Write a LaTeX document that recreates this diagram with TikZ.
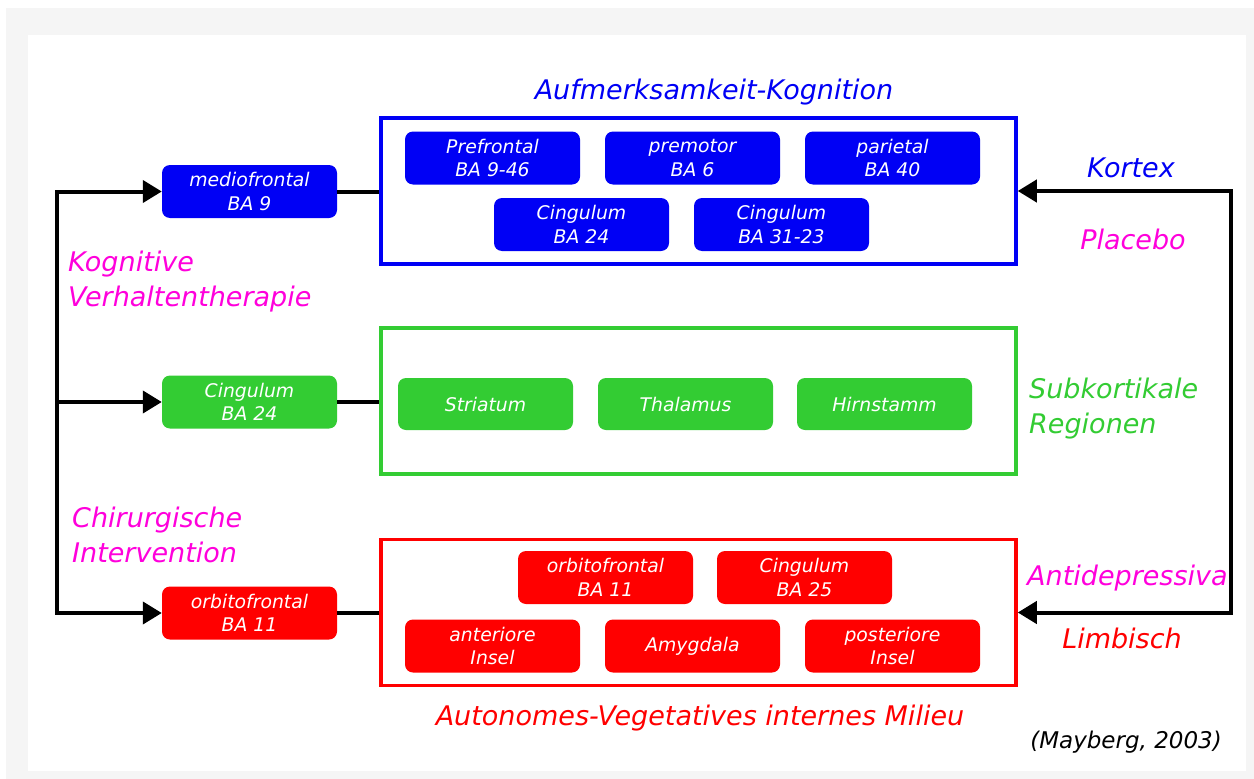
\documentclass[tikz,border=0pt]{standalone}
\usepackage{fontspec}
\setmainfont{DejaVu Sans}
\usetikzlibrary{arrows.meta}
\definecolor{cblue}{RGB}{0,0,245}
\definecolor{cgreen}{RGB}{51,204,51}
\definecolor{cred}{RGB}{255,0,0}
\definecolor{cmag}{RGB}{255,0,220}
\definecolor{bgray}{RGB}{245,245,245}
\tikzset{
  small/.style={rounded corners=8pt, minimum width=175pt, minimum height=53pt, inner sep=0pt,
    text=white, align=center, font=\fontsize{18.8}{23.5}\selectfont\itshape},
  bigbox/.style={draw, line width=3.5pt, minimum width=635pt, minimum height=146pt, inner sep=0pt},
  conn/.style={line width=4pt, black},
  arr/.style={line width=4pt, black, -{Triangle[length=19pt,width=22pt]}},
  lbl/.style={font=\fontsize{27}{35}\selectfont\itshape, inner sep=0pt, align=left},
}
\begin{document}
\begin{tikzpicture}[x=1pt,y=-1pt]
\useasboundingbox (0,0) rectangle (1254,779);
\fill[white] (0,0) rectangle (1254,779);
\fill[bgray] (6,8) rectangle (1254,779);
\fill[white] (28,35) rectangle (1246,771);

% big boxes
\node[bigbox, draw=cblue] (kbox) at (698.5,191) {};
\node[bigbox, draw=cgreen] (sbox) at (698.5,401) {};
\node[bigbox, draw=cred] (lbox) at (698.5,612.5) {};

% left boxes
\node[small, fill=cblue] (mf) at (249.5,191.5) {mediofrontal\\BA 9};
\node[small, fill=cgreen] (cg) at (249.5,402) {Cingulum\\BA 24};
\node[small, fill=cred] (of) at (249.5,613) {orbitofrontal\\BA 11};

% blue inner
\node[small, fill=cblue] (pf) at (492.5,158) {Prefrontal\\BA 9-46};
\node[small, fill=cblue] (pm) at (692.5,158) {premotor\\BA 6};
\node[small, fill=cblue] (pa) at (892.5,158) {parietal\\BA 40};
\node[small, fill=cblue] (c24) at (581.5,224.5) {Cingulum\\BA 24};
\node[small, fill=cblue] (c31) at (781.5,224.5) {Cingulum\\BA 31-23};

% green inner
\node[small, fill=cgreen, minimum height=52pt] (st) at (485.5,404) {Striatum};
\node[small, fill=cgreen, minimum height=52pt] (th) at (685.5,404) {Thalamus};
\node[small, fill=cgreen, minimum height=52pt] (hs) at (884.5,404) {Hirnstamm};

% red inner
\node[small, fill=cred] (of2) at (605.5,577.5) {orbitofrontal\\BA 11};
\node[small, fill=cred] (c25) at (804.5,577.5) {Cingulum\\BA 25};
\node[small, fill=cred] (ai) at (492.5,646) {anteriore\\Insel};
\node[small, fill=cred] (am) at (692.5,646) {Amygdala};
\node[small, fill=cred] (pi) at (892.5,646) {posteriore\\Insel};

% connectors box-to-box
\draw[conn] (mf.east) -- (mf.east -| kbox.west);
\draw[conn] (cg.east) -- (cg.east -| sbox.west);
\draw[conn] (of.east) -- (of.east -| lbox.west);

% left feedback
\coordinate (L) at (57,0);
\draw[arr] (L |- of.west) -- (L |- mf.west) -- (mf.west);
\draw[arr] (L |- cg.west) -- (cg.west);
\draw[arr, line cap=rect] (L |- of.west) -- (of.west);

% right feedback
\coordinate (R) at (1231,0);
\draw[arr] (R |- lbox.east) -- (R |- kbox.east) -- (kbox.east);
\draw[arr, line cap=rect] (R |- lbox.east) -- (lbox.east);

% labels
\node[lbl, text=cblue, anchor=base] (t1) at (714,99) {Aufmerksamkeit-Kognition};
\node[lbl, text=cblue, anchor=base] (t2) at (1131,177) {Kortex};
\node[lbl, text=cmag, anchor=base] (t3) at (1133,249) {Placebo};
\node[lbl, text=cmag, anchor=base west] (t4) at (68,306) {Kognitive\\Verhaltentherapie};
\node[lbl, text=cgreen, anchor=base west] (t5) at (1029,433) {Subkortikale\\Regionen};
\node[lbl, text=cmag, anchor=base west] (t6) at (72,562) {Chirurgische\\Intervention};
\node[lbl, text=cmag, anchor=base west] (t7) at (1027,585) {Antidepressiva};
\node[lbl, text=cred, anchor=base] (t8) at (1122,648) {Limbisch};
\node[lbl, text=cred, anchor=base] (t9) at (700,725) {Autonomes-Vegetatives internes Milieu};
\node[font=\fontsize{23}{28}\selectfont\itshape, inner sep=0pt, anchor=base east] (t10) at (1222,748) {(Mayberg, 2003)};
\end{tikzpicture}
\end{document}
